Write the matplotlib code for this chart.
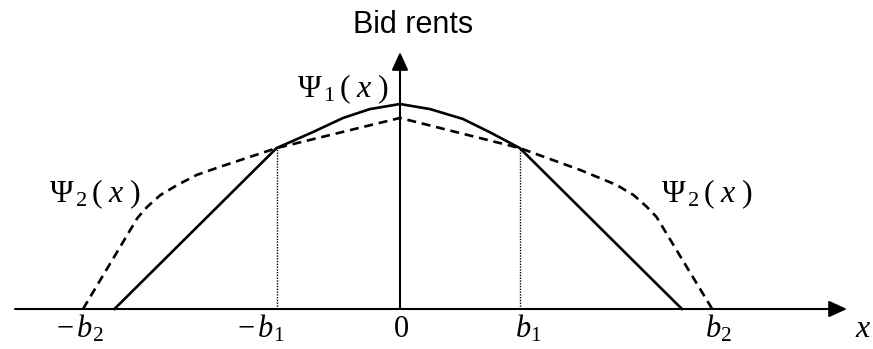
import numpy as np
import matplotlib
matplotlib.use('Agg')
import matplotlib.pyplot as plt

# 字体设置: 坐标文字用 Times 风格, 标题用 Arial 风格
plt.rcParams['mathtext.fontset'] = 'custom'
plt.rcParams['mathtext.rm'] = 'Liberation Serif'
plt.rcParams['mathtext.it'] = 'Liberation Serif:italic'
plt.rcParams['mathtext.bf'] = 'Liberation Serif:bold'

# x 以 b1 为单位, y 以 Psi1(0) 为单位
psi1_x = [-2.36, -1.02, -0.72, -0.47, -0.25, 0.0, 0.25, 0.52, 0.74, 0.99, 2.33]
psi1_y = [0.0, 0.785, 0.863, 0.932, 0.975, 1.0, 0.975, 0.927, 0.863, 0.785, 0.0]

psi2_x = [-2.62, -2.17, -2.09, -1.98, -1.84, -1.68, -1.49, -1.02, 0.0,
          0.99, 1.49, 1.65, 1.79, 1.93, 2.04, 2.12, 2.58]
psi2_y = [0.0, 0.444, 0.498, 0.556, 0.605, 0.654, 0.693, 0.785, 0.932,
          0.785, 0.678, 0.639, 0.605, 0.556, 0.498, 0.449, 0.0]

b1_left, b1_right = -1.02, 0.99
b1_height = 0.785

tick_labels = [r'$-\,b_{2}$', r'$-\,b_{1}$', r'$0$', r'$b_{1}$', r'$b_{2}$']
tick_pos = [-2.645, -1.149, 0.008, 1.058, 2.628]
psi_label = r'$\Psi_{\,%d}\,(\;x\;)$'

fig = plt.figure(figsize=(8.73, 3.49), dpi=100)
ax = fig.add_axes([0, 0, 1, 1])
ax.set_xlim(-400 / 121, 473 / 121)
ax.set_ylim(-40 / 205, 309 / 205)
ax.axis('off')

# 坐标轴 (带箭头)
arrow = dict(arrowstyle='-|>,head_length=1.1,head_width=0.5', lw=1.5,
             color='black', shrinkA=0, shrinkB=0, mutation_scale=10)
ax.annotate('', xy=(447 / 121, 0), xytext=(-385 / 121, 0), arrowprops=arrow)
ax.annotate('', xy=(0, 257 / 205), xytext=(0, 0), arrowprops=arrow)

# 曲线
ax.plot(psi1_x, psi1_y, color='black', lw=1.9, solid_joinstyle='round')
ax.plot(psi2_x, psi2_y, color='black', lw=1.9, dashes=(3.4, 2.2))

# 虚线竖线
for xv in [b1_left, b1_right]:
    ax.plot([xv, xv], [0, b1_height], color='black', lw=1.0,
            linestyle=(0, (1, 1)))

# 文字
ax.text(13 / 121, 284 / 205, 'Bid rents', family='Liberation Sans',
        fontsize=22, ha='center', va='center')
ax.text(-0.471, 1.034, psi_label % 1, fontsize=23,
        ha='center', va='baseline')
ax.text(-2.52, 0.52, psi_label % 2, fontsize=23,
        ha='center', va='baseline')
ax.text(2.537, 0.52, psi_label % 2, fontsize=23,
        ha='center', va='baseline')

for lab, xp in zip(tick_labels, tick_pos):
    ax.text(xp, -0.137, lab, fontsize=22, ha='center', va='baseline')
ax.text(3.826, -0.137, r'$x$', fontsize=23, ha='center', va='baseline')

fig.savefig('out.png', dpi=100)
